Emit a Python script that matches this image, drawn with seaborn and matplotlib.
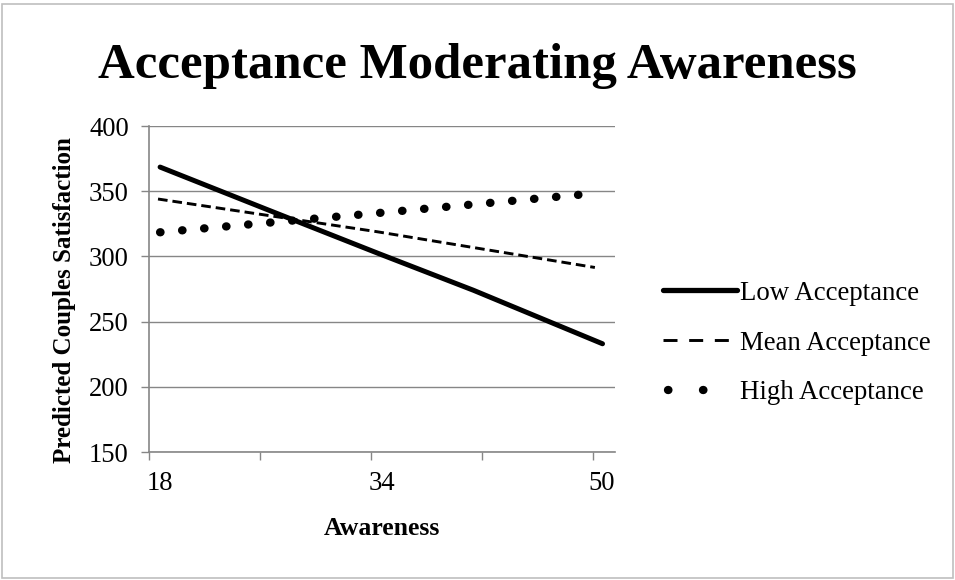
import numpy as np
import matplotlib
matplotlib.use("Agg")
import matplotlib.pyplot as plt
from matplotlib.lines import Line2D
from matplotlib.patches import Rectangle
import seaborn as sns
import pandas as pd

# values
low_x = [18.8, 26.5, 34.6, 41.4, 50.7]
low_y = [368.5, 336, 302, 274, 233]
mean_x = [18.65, 34.4, 50.15]
mean_y = [344, 319, 291.5]
high_x = [18.8, 34.77, 50.2]
high_y = [318.5, 333.5, 348.4]

series_names = ["Low Acceptance", "Mean Acceptance", "High Acceptance"]
x_ticks = [18, 26, 34, 42, 50]
x_label_pos = [18.8, 34.8, 50.65]
x_labels = ["18", "34", "50"]
y_ticks = [150, 200, 250, 300, 350, 400]

sns.set_style("white")
plt.rcParams["font.family"] = ["Liberation Serif", "DejaVu Serif"]
plt.rcParams["text.color"] = "black"
plt.rcParams["axes.labelcolor"] = "black"

grey = "#868686"
fig = plt.figure(figsize=(9.55, 5.8), dpi=100)
ax = fig.add_axes([149 / 955, 1 - 452 / 580, 466 / 955, 326 / 580])

low = pd.DataFrame({"x": low_x, "y": low_y})
mean = pd.DataFrame({"x": mean_x, "y": mean_y})
high = pd.DataFrame({"x": high_x, "y": high_y})

sns.lineplot(data=low, x="x", y="y", ax=ax, color="black", lw=3.6,
             solid_capstyle="round", sort=False, estimator=None, zorder=3)
sns.lineplot(data=mean, x="x", y="y", ax=ax, color="black", lw=2.1,
             linestyle=(0, (3.3, 1.7)), dash_capstyle="butt", sort=False,
             estimator=None, zorder=3)
sns.lineplot(data=high, x="x", y="y", ax=ax, color="black", lw=6.0,
             linestyle=(0, (0.05, 2.6)), dash_capstyle="round", sort=False,
             estimator=None, zorder=3)

ax.set_xlim(18, 51.6)
ax.set_ylim(150, 400)
# tick marks at category boundaries, labels at category centres
ax.set_xticks(x_ticks)
ax.set_xticklabels([""] * len(x_ticks))
ax.set_xticks(x_label_pos, minor=True)
ax.set_xticklabels(x_labels, minor=True)
ax.set_yticks(y_ticks)
ax.yaxis.grid(True, color=grey, lw=1)
ax.xaxis.grid(False)
for s in ["top", "right"]:
    ax.spines[s].set_visible(False)
for s in ["left", "bottom"]:
    ax.spines[s].set_color(grey)
    ax.spines[s].set_linewidth(1.2)
ax.tick_params(axis="both", which="major", direction="out", length=5.5, width=1,
               color=grey, labelsize=19.2, labelcolor="black", left=True, bottom=True)
ax.tick_params(axis="y", pad=9)
ax.tick_params(axis="x", which="minor", length=0, pad=14, labelsize=19.2,
               labelcolor="black", bottom=True)

ax.set_xlabel("Awareness", fontsize=18.5, fontweight="bold", labelpad=15)
ax.set_ylabel("Predicted Couples Satisfaction", fontsize=18, fontweight="bold")
ax.yaxis.set_label_coords(-0.157, 0.466)

fig.text(0.5, 1 - 78 / 580, "Acceptance Moderating Awareness", ha="center",
         va="baseline", fontsize=36.6, fontweight="bold", color="black")

handles = [
    Line2D([], [], color="black", lw=3.8, solid_capstyle="round"),
    Line2D([], [], color="black", lw=2.1, linestyle=(0, (4.8, 4.0))),
    Line2D([], [], color="black", lw=6.0, linestyle=(3.6, (0.05, 4.15)),
           dash_capstyle="round"),
]
ax.legend(handles, series_names, loc="center left",
          bbox_to_anchor=(663 / 955, 1 - 343 / 580), bbox_transform=fig.transFigure,
          frameon=False, fontsize=19.4, handlelength=2.74, handletextpad=0.1,
          labelspacing=0.92, borderpad=0, borderaxespad=0)

fig.patches.append(Rectangle((0.002, 0.003), 0.996, 0.99, transform=fig.transFigure,
                             fill=False, edgecolor="#bfbfbf", lw=1.2))

fig.savefig("out.png", dpi=100)
